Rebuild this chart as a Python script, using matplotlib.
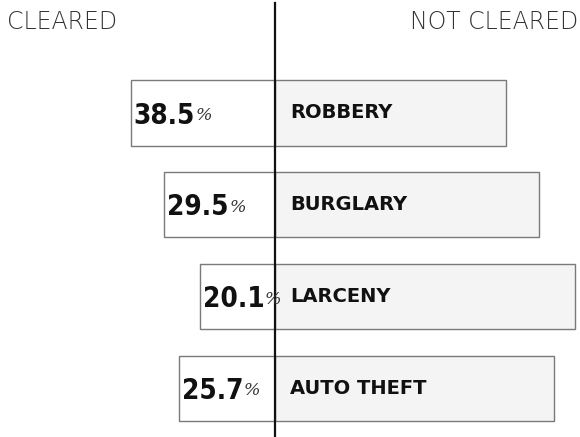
import matplotlib
matplotlib.use("Agg")
import matplotlib.pyplot as plt

categories = ["ROBBERY", "BURGLARY", "LARCENY", "AUTO THEFT"]
cleared = [38.5, 29.5, 20.1, 25.7]
not_cleared = [100 - c for c in cleared]
pct_labels = ["38.5", "29.5", "20.1", "25.7"]

fig = plt.figure(figsize=(5.8, 4.37), dpi=100)
ax = fig.add_axes([0, 0, 1, 1])
ax.set_xlim(-73.33, 81.33)
ax.set_ylim(3.533, -1.232)
ax.axis("off")

ypos = list(range(len(categories)))
h = 0.71
ax.barh(ypos, [-c for c in cleared], height=h, left=0, color="white",
        edgecolor="#7a7a7a", linewidth=1.0, zorder=2)
ax.barh(ypos, not_cleared, height=h, left=0, color="#f4f4f4",
        edgecolor="#7a7a7a", linewidth=1.0, zorder=2)

ax.axvline(0, ymin=0, ymax=1 - 3 / 437, color="#111111", linewidth=1.6, zorder=3)

for y, c, lab, cat in zip(ypos, cleared, pct_labels, categories):
    t = ax.text(-c + 0.8, y + 0.03, lab, ha="left", va="center",
                fontsize=20, fontweight="bold", family="DejaVu Sans",
                fontstretch="condensed", color="#111111", zorder=4)
    ax.annotate("%", xy=(1, 0.5), xycoords=t, xytext=(0.3, 0), textcoords="offset points",
                ha="left", va="center", fontsize=12.5, fontstyle="italic",
                family="DejaVu Serif", color="#333333", zorder=4)
    ax.text(4.0, y, cat, ha="left", va="center", fontsize=14,
            fontweight="bold", family="DejaVu Sans", color="#111111", zorder=4)

fig.text(7 / 580, 1 - 22 / 437, "CLEARED", ha="left", va="center",
         fontsize=17, family="DejaVu Sans", fontweight="light", color="#333333")
fig.text(578 / 580, 1 - 22 / 437, "NOT CLEARED", ha="right", va="center",
         fontsize=17, family="DejaVu Sans", fontweight="light", color="#333333")

fig.savefig("out.png", dpi=100)
